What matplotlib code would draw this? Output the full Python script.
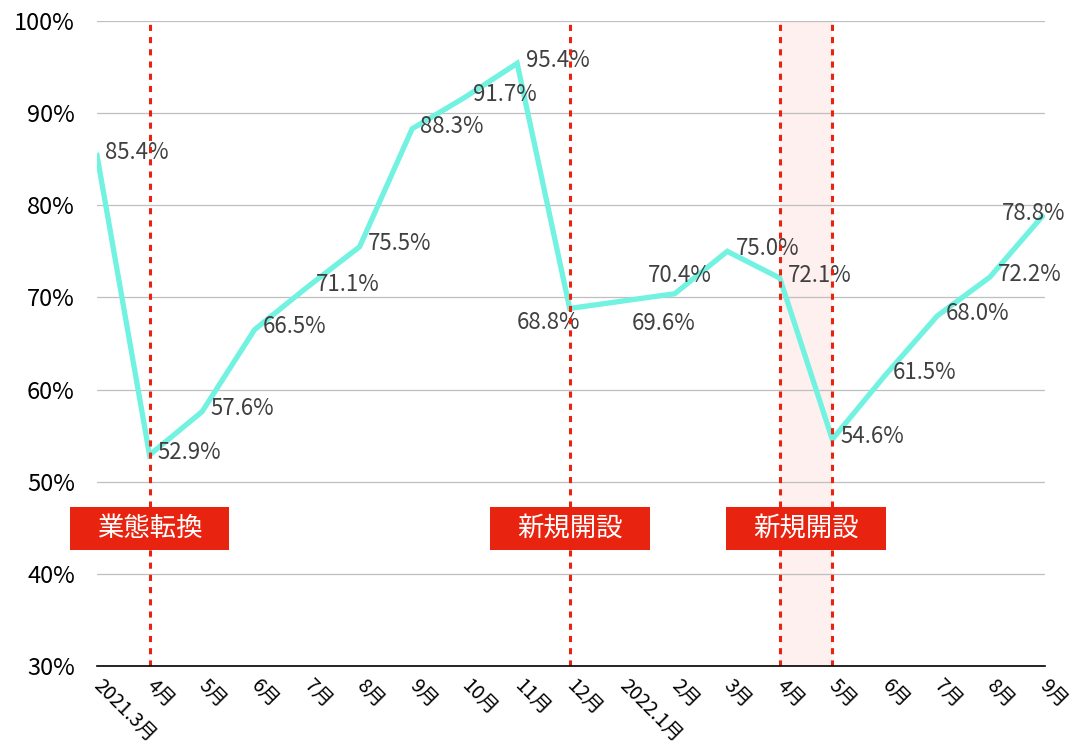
import matplotlib
matplotlib.use('Agg')
import matplotlib.pyplot as plt
from matplotlib.patches import Rectangle
from matplotlib.ticker import MultipleLocator, FuncFormatter

plt.rcParams['font.family'] = ['Noto Sans CJK JP', 'DejaVu Sans']

# data
months = ['2021.3月', '4月', '5月', '6月', '7月', '8月', '9月', '10月', '11月', '12月',
          '2022.1月', '2月', '3月', '4月', '5月', '6月', '7月', '8月', '9月']
rates = [85.4, 52.9, 57.6, 66.5, 71.1, 75.5, 88.3, 91.7, 95.4, 68.8,
         69.6, 70.4, 75.0, 72.1, 54.6, 61.5, 68.0, 72.2, 78.8]
event_idx = [1, 9, 13, 14]
event_labels = ['業態転換', '新規開設', '新規開設']
event_label_pos = [1, 9, 13.5]

line_color = '#72f2e0'
red = '#e8230f'

fig = plt.figure(figsize=(10.71, 7.52), dpi=100)
ax = fig.add_axes([0.0906, 0.1144, 0.8851, 0.8577])

x = list(range(len(months)))

# shaded period (2022.4 - 5)
ax.axvspan(event_idx[2], event_idx[3], color='#fdf0ee', zorder=0, lw=0)

ax.plot(x, rates, color=line_color, lw=3.8, solid_joinstyle='miter', zorder=3)

for ix in event_idx:
    ax.axvline(ix, color=red, lw=2.2, ls=(0, (2, 2)), zorder=5)

# data labels (offsets in points)
offsets = {9: (-15, -10, 'center'), 10: (7, -16, 'left'), 11: (4, 13, 'center'),
           18: (-6, 2, 'center')}
for i, v in enumerate(rates):
    dx, dy, ha = offsets.get(i, (6, 2, 'left'))
    ax.annotate(f'{v:.1f}%', (i, v), xytext=(dx, dy), textcoords='offset points',
                ha=ha, va='center', fontsize=16, color='#404040', zorder=4)

# event boxes
bw, by, bh = 3.04, 42.6, 4.7
for pos, lab in zip(event_label_pos, event_labels):
    ax.add_patch(Rectangle((pos - bw / 2, by), bw, bh, facecolor=red, edgecolor='none',
                           zorder=6, clip_on=False))
    ax.text(pos, by + bh / 2, lab, ha='center', va='center', color='white',
            fontsize=19, zorder=7)

ax.set_xlim(0, 18.05)
ax.set_ylim(30, 100)
ax.yaxis.set_major_locator(MultipleLocator(10))
ax.yaxis.set_major_formatter(FuncFormatter(lambda v, p: f'{v:.0f}%'))
ax.grid(axis='y', color='#bfbfbf', lw=0.9, zorder=1)
ax.set_axisbelow(True)
for s in ['top', 'right', 'left']:
    ax.spines[s].set_visible(False)
ax.spines['bottom'].set_color('black')
ax.spines['bottom'].set_linewidth(1.2)
ax.spines['bottom'].set_zorder(8)
ax.tick_params(axis='y', length=0, pad=16, labelsize=17)
ax.tick_params(axis='x', length=0, pad=12, labelsize=14)
ax.set_xticks(x)
ax.set_xticklabels(months, rotation=-45, ha='left', va='center', rotation_mode='anchor')

fig.savefig('out.png', dpi=100)
